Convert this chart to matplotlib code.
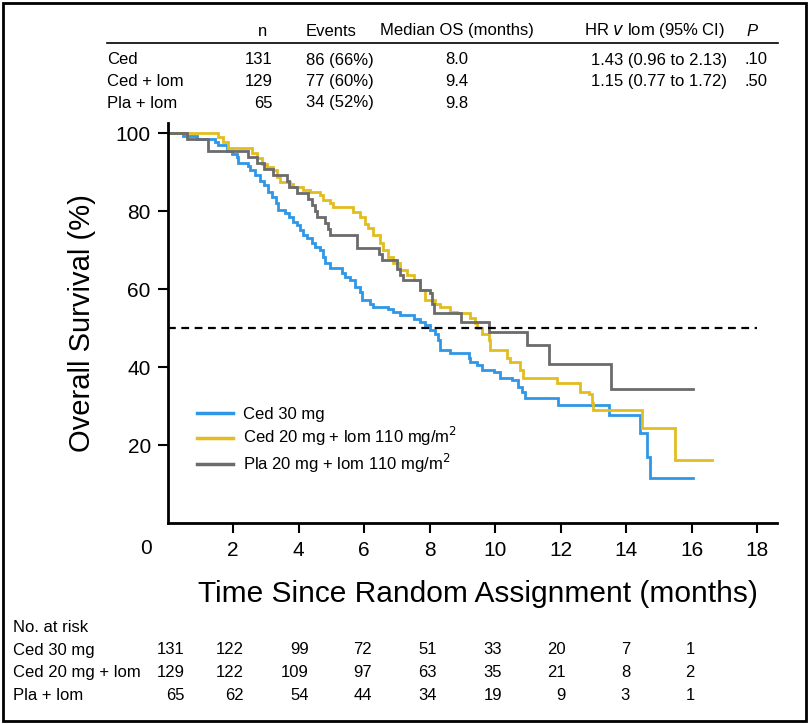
import matplotlib
matplotlib.use('Agg')
import matplotlib.pyplot as plt
from matplotlib.patches import Rectangle
from matplotlib.lines import Line2D

plt.rcParams['font.family'] = ['Liberation Sans', 'DejaVu Sans']

# ── Kaplan-Meier step data (months, % surviving) ─────────────
ced_t = [0, 0.48, 0.90, 1.45, 1.55, 1.81, 1.98, 2.11, 2.16, 2.47, 2.52, 2.67, 2.82, 2.93,
         3.08, 3.18, 3.30, 3.38, 3.60, 3.70, 3.84, 3.95, 4.05, 4.15, 4.25, 4.40, 4.50,
         4.66, 4.76, 4.81, 4.96, 5.32, 5.42, 5.57, 5.73, 5.88, 5.93, 6.18, 6.28, 6.74,
         6.89, 7.10, 7.51, 7.71, 7.86, 8.02, 8.17, 8.27, 8.32, 8.63, 9.19, 9.24, 9.44,
         9.59, 9.95, 10.15, 10.51, 10.71, 10.81, 10.92, 11.93, 13.46, 14.43, 14.63,
         14.71, 16.05]
ced_s = [100, 99.2, 98.5, 97.7, 96.9, 95.4, 94.7, 93.9, 92.4, 91.6, 90.5, 89.2, 87.8, 86.6,
         84.9, 83.6, 82.0, 80.3, 79.4, 78.6, 77.3, 76.4, 75.1, 73.8, 73.0, 71.7, 70.9,
         70.0, 68.3, 66.6, 65.4, 64.0, 63.2, 62.3, 60.6, 59.3, 57.2, 56.3, 55.5, 54.9,
         54.2, 53.3, 52.3, 51.6, 50.8, 49.5, 48.6, 46.9, 44.4, 43.5, 42.2, 41.4, 40.5,
         39.2, 38.8, 37.1, 36.7, 34.9, 33.7, 32.0, 30.3, 27.7, 23.0, 17.0,
         11.5, 11.5]

cedlom_t = [0, 1.55, 1.70, 1.86, 2.57, 2.72, 2.88, 3.03, 3.23, 3.33, 3.44, 3.74, 3.84, 4.15,
            4.35, 4.66, 4.76, 4.96, 5.06, 5.67, 5.88, 6.03, 6.13, 6.28, 6.49, 6.59, 6.74,
            6.89, 7.10, 7.30, 7.51, 7.71, 7.86, 8.17, 8.32, 8.63, 8.83, 9.24, 9.39, 9.44,
            9.59, 9.80, 9.85, 10.36, 10.46, 10.76, 10.86, 11.88, 12.60, 12.85, 12.95, 13.00,
            14.48, 15.50, 16.62]
cedlom_s = [100, 99.1, 97.7, 96.1, 94.8, 93.5, 92.2, 91.4, 90.5, 88.8, 87.5, 86.9, 86.2, 85.5,
            84.9, 84.1, 82.8, 82.0, 81.1, 79.8, 78.5, 76.8, 75.6, 73.8, 71.7, 70.0, 68.3,
            66.6, 64.9, 63.6, 62.3, 59.7, 57.2, 56.3, 55.5, 54.2, 53.8, 52.5, 51.2, 49.9,
            48.6, 46.9, 44.4, 42.2, 41.4, 39.2, 37.1, 35.8, 33.7, 33.2, 30.7, 29.0,
            24.3, 16.2, 16.2]

plalom_t = [0, 0.60, 1.25, 2.47, 2.72, 2.93, 3.23, 3.64, 3.70, 3.95, 4.30, 4.40, 4.50, 4.56,
            4.81, 4.91, 4.96, 5.78, 6.44, 6.54, 7.00, 7.10, 7.20, 7.71, 8.02, 8.07, 8.12,
            8.95, 9.80, 10.97, 11.63, 13.54, 16.05]
plalom_s = [100, 98.5, 95.4, 93.8, 92.3, 90.8, 89.2, 87.7, 86.2, 84.6, 83.1, 81.5, 80.0, 78.5,
            76.9, 75.4, 73.8, 70.6, 69.0, 67.4, 65.1, 63.6, 62.3, 59.7, 58.9, 56.3, 53.8,
            51.6, 49.1, 45.6, 40.9, 34.3, 34.3]

legend_labels = ['Ced 30 mg', 'Ced 20 mg + lom 110 mg/m$^2$', 'Pla 20 mg + lom 110 mg/m$^2$']
colors = ['#2f97e6', '#e2bd1f', '#6b6b6b']

# ── summary table (top) ─────────────────────────────────────
tbl_arms = ['Ced', 'Ced + lom', 'Pla + lom']
tbl_n = ['131', '129', '65']
tbl_events = ['86 (66%)', '77 (60%)', '34 (52%)']
tbl_median = ['8.0', '9.4', '9.8']
tbl_hr = ['1.43 (0.96 to 2.13)', '1.15 (0.77 to 1.72)', '']
tbl_p = ['.10', '.50', '']

# ── number at risk ──────────────────────────────────────────
risk_labels = ['Ced 30 mg', 'Ced 20 mg + lom', 'Pla + lom']
risk_ced = [131, 122, 99, 72, 51, 33, 20, 7, 1]
risk_cedlom = [129, 122, 109, 97, 63, 35, 21, 8, 2]
risk_plalom = [65, 62, 54, 44, 34, 19, 9, 3, 1]

W, H = 809, 724
fig = plt.figure(figsize=(W / 100, H / 100), dpi=100)
fig.patch.set_facecolor('white')


def fx(x):
    return x / W


def fy(y):
    return 1 - y / H


# outer frame
fig.patches.append(Rectangle((fx(3), fy(721)), fx(803), 718 / H, transform=fig.transFigure,
                             fill=False, edgecolor='black', linewidth=2))

ax = fig.add_axes([fx(167.5), fy(523), fx(777) - fx(167.5), fy(123) - fy(523)])
for t, s, c in zip([ced_t, cedlom_t, plalom_t], [ced_s, cedlom_s, plalom_s], colors):
    ax.step(t, s, where='post', color=c, lw=2.0, solid_joinstyle='miter')
ax.plot([0, 18], [50, 50], color='black', lw=1.6, ls=(0, (3.5, 2.5)))

ax.set_xlim(0, 18.6)
ax.set_ylim(0, 102.6)
ax.set_xticks(range(2, 19, 2))
ax.set_yticks(range(20, 101, 20))
ax.tick_params(direction='out', length=7, width=1.5, labelsize=15, pad=5)
ax.tick_params(axis='x', pad=6)
for side in ['top', 'right']:
    ax.spines[side].set_visible(False)
for side in ['left', 'bottom']:
    ax.spines[side].set_linewidth(2)
fig.text(fx(146), fy(548), '0', fontsize=15, ha='center', va='center')

ax.set_ylabel('Overall Survival (%)', fontsize=21, labelpad=14)
fig.text(fx(478), fy(594), 'Time Since Random Assignment (months)', fontsize=21.5,
         ha='center', va='center')

handles = [Line2D([], [], color=c, lw=2.5) for c in colors]
ax.legend(handles, legend_labels, loc='upper left', bbox_to_anchor=(0.048, 0.29),
          frameon=False, fontsize=12, handlelength=2.2, handletextpad=0.55,
          labelspacing=0.2, borderaxespad=0, borderpad=0)

# top table
fs = 12
hy = 31
fig.text(fx(263), fy(hy), 'n', fontsize=fs, ha='center', va='center')
fig.text(fx(306), fy(hy), 'Events', fontsize=fs, ha='left', va='center')
fig.text(fx(457), fy(hy), 'Median OS (months)', fontsize=fs, ha='center', va='center')
fig.text(fx(655), fy(hy), r'HR $\it{v}$ lom (95% CI)', fontsize=fs, ha='center', va='center')
fig.text(fx(752), fy(hy), 'P', fontsize=fs, ha='center', va='center', style='italic')
fig.add_artist(Line2D([fx(107), fx(778)], [fy(43), fy(43)], color='black', lw=1.2))
for i, arm in enumerate(tbl_arms):
    y = fy(60 + i * 21.5)
    fig.text(fx(107), y, arm, fontsize=fs, ha='left', va='center')
    fig.text(fx(273), y, tbl_n[i], fontsize=fs, ha='right', va='center')
    fig.text(fx(306), y, tbl_events[i], fontsize=fs, ha='left', va='center')
    fig.text(fx(457), y, tbl_median[i], fontsize=fs, ha='center', va='center')
    fig.text(fx(727), y, tbl_hr[i], fontsize=fs, ha='right', va='center')
    fig.text(fx(745), y, tbl_p[i], fontsize=fs, ha='left', va='center')

# number at risk
col_right = [185, 244, 309, 372, 437, 502, 566, 630, 695]
fig.text(fx(13), fy(627), 'No. at risk', fontsize=fs, ha='left', va='center')
for i, (lab, row) in enumerate(zip(risk_labels, [risk_ced, risk_cedlom, risk_plalom])):
    y = fy(650 + i * 22.5)
    fig.text(fx(13), y, lab, fontsize=fs, ha='left', va='center')
    for xr, v in zip(col_right, row):
        fig.text(fx(xr), y, str(v), fontsize=fs, ha='right', va='center')

fig.savefig('out.png', dpi=100, facecolor='white')
